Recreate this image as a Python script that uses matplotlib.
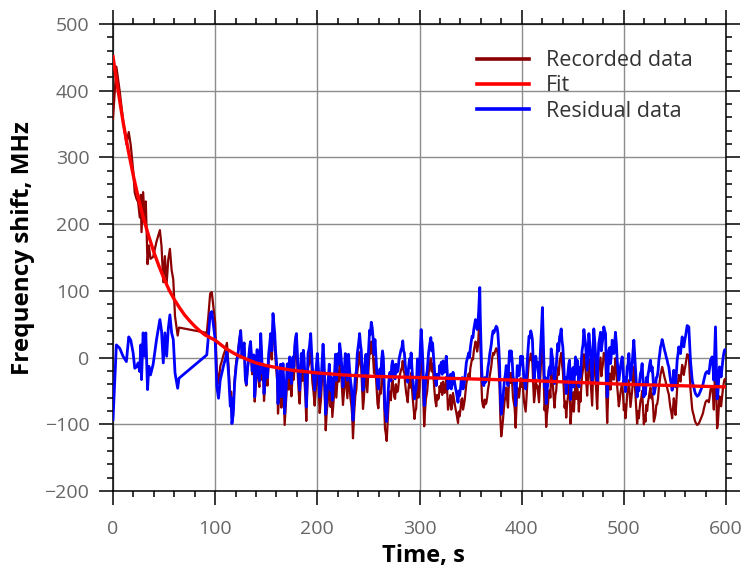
import numpy as np
import matplotlib
matplotlib.use('Agg')
import matplotlib.pyplot as plt
from matplotlib.ticker import MultipleLocator

plt.rcParams['font.family'] = ['Open Sans', 'DejaVu Sans']

#---------------------------------------------------------------------
# measured frequency shift (MHz) vs time (s), gap between ~65 and ~92 s
#---------------------------------------------------------------------
time_s = [
    0, 3.3, 6.6, 9.8, 13.1, 15.4, 17.4, 19.7, 21.3, 23.0,
    24.6, 26.2, 27.2, 27.9, 29.5, 31.1, 32.1, 33.8, 35.1, 36.7,
    39.3, 42.6, 45.9, 47.5, 49.2, 50.8, 52.5, 54.1, 55.7, 57.4,
    59.0, 60.7, 63.3, 64.6,
    91.8, 93.4, 95.1, 96.7, 98.4, 100.0, 101.6, 103.3, 105.0, 106.6, 108.2, 109.8, 111.5, 113.1,
    114.8, 116.4, 119.0, 122.4, 125.0, 127.3, 129.5, 131.5, 133.8, 135.4,
    137.0, 138.7, 140.3, 141.9, 144.6, 146.2, 147.8, 150.0, 152.4, 154.3,
    156.6, 158.3, 159.9, 161.5, 163.1, 164.8, 166.4, 168.0, 169.7, 171.3,
    172.9, 174.6, 176.2, 177.8, 179.5, 181.1, 182.7, 184.3, 186.3, 187.6,
    189.2, 190.9, 193.5, 195.1, 197.4, 200.0, 202.3, 204.6, 206.5, 208.2,
    210.4, 213.0, 214.7, 217.0, 218.6, 220.2, 221.9, 223.5, 225.1, 227.4,
    229.4, 231.6, 233.3, 234.9, 237.2, 239.1, 241.4, 243.0, 244.7, 246.3,
    248.9, 251.2, 252.8, 254.5,
    256.4, 258.0, 259.7, 261.3, 263.0, 264.6, 266.2, 267.9, 269.5, 271.1,
    272.8, 274.4, 276.1, 277.7, 280.0, 282.0, 283.6, 285.2, 286.9, 288.5,
    290.2, 291.8, 293.4, 295.1, 296.7, 298.0, 300.0, 301.6, 303.3, 304.6,
    306.2, 308.9, 311.1, 312.8, 314.8, 316.4, 318.0, 319.7, 321.3, 323.0,
    324.6, 326.2, 327.9, 329.5, 331.1, 332.8, 334.4, 336.1, 337.7, 339.3,
    341.0, 342.6, 344.3, 345.9, 348.2, 349.8, 351.5, 353.1, 354.8, 356.4,
    358.0, 359.0, 360.0, 361.3, 363.0, 364.6, 366.2, 367.9, 369.5, 371.1,
    372.8, 375.1, 376.7, 378.4, 380.0, 381.6, 383.3, 384.9, 386.6, 388.2,
    389.8, 391.5, 393.1, 394.1, 395.7, 397.4, 399.0, 400.7, 402.3, 403.9,
    405.6, 407.2, 408.9, 410.5, 412.1, 413.8, 415.4, 417.0, 418.7, 420.3,
    422.4, 424.0, 425.6, 427.3, 428.9, 430.5, 432.2, 433.8, 435.4, 437.1,
    438.7, 440.3, 442.0, 443.6, 445.2, 446.9, 447.8, 449.4, 451.1, 452.7,
    454.3, 456.0, 457.6, 459.2, 460.9, 462.5, 464.1, 465.8, 467.4, 469.0,
    470.6, 472.3, 473.9, 475.5, 477.2, 478.8, 480.4, 482.1, 483.7, 485.3,
    487.0, 488.6, 490.2, 491.8, 493.5, 495.1, 496.7, 498.4, 500.0, 501.6,
    503.3, 504.9, 506.5, 508.2, 509.8, 511.4, 513.0, 514.7, 516.3, 517.9,
    519.6, 521.2, 522.8, 524.5, 526.1, 527.7, 529.4, 531.0, 532.6, 534.3,
    535.9, 537.5, 539.1, 540.8, 542.4, 544.0, 545.7, 547.3, 548.9, 550.6,
    552.2, 553.8, 555.5, 557.1, 558.7, 560.3, 562.0, 563.6, 565.2, 566.9,
    568.5, 570.1, 571.8, 573.4, 575.0, 576.6, 578.3, 579.9, 581.5, 583.2,
    584.8, 586.4, 588.1, 589.7, 591.3, 592.6, 593.6, 595.2, 596.9, 598.5, 599.5,
]

recorded = [
    358, 436, 399, 356, 320, 338, 318, 281, 247, 238,
    233, 210, 244, 188, 248, 204, 234, 140, 168, 148,
    151, 174, 191, 167, 113, 152, 111, 147, 163, 131,
    117, 62, 33, 45,
    37, 63, 96, 98, 74, 53, -19, -39, -13, -5, 4, 11, 22, -13,
    -63, -91, -33, 9, 41, 16, -33, -22, 12, 1,
    -20, -66, -18, -29, 26, -34, -65, -26, -7, 23,
    52, 22, -19, -84, -50, -75, -26, -101, -57, -27,
    -17, -58, -18, -3, 16, -34, -69, -14, -10, -40,
    -95, -16, 14, -36, -72, -17, -83, -33, -28, -109,
    -64, -74, -89, -44, -60, -20, -5, -30, -71, -21,
    -61, -46, -71, -121, -57, -22, 8, -17, -77, -42,
    -52, 12, 24, 2,
    -2, -46, -76, -46, -31, -29, -106, -125, -76, -51,
    -41, -44, -62, -52, -32, -18, -5, -23, -52, -67,
    -32, -23, -62, -92, -77, -32, -47, 11, -38, -103,
    -63, -24, -1, -9, -53, -73, -63, -43, -38, -36,
    -53, -29, -78, -63, -78, -53, -68, -83, -98, -88,
    -63, -78, -63, -38, -24, -16, -1, 9, 24, 9,
    39, 72, -1, -65, -75, -70, -60, -40, -21, -1,
    4, 14, 4, -45, -118, -95, -65, -45, -75, -23,
    -23, -60, -75, -105, -45, -60, -31, -32, -66, -81,
    -36, -2, 6, -8, -67, -33, -42, -67, -18, 40,
    -79, -104, -74, -49, -22, -40, -75, -50, -15, -5,
    7, -20, -75, -90, -60, -40, -99, -77, -81, -36,
    -41, -81, -66, -26, 5, -16, -57, -2, -32, -72,
    5, -32, -77, -17, 0, -17, 7, -3, -98, -28,
    -48, -13, -33, -1, -43, -73, -53, -39, -79, -91,
    -54, -34, -74, -49, -14, -54, -99, -91, -65, -50,
    -100, -96, -80, -60, -45, -55, -96, -85, -70, -45,
    -25, -14, -25, -35, -45, -55, -76, -91, -61, -86,
    -46, -26, -36, -11, -26, -12, 5, 3, -47, -77,
    -87, -97, -101, -99, -93, -87, -77, -67, -64, -67,
    -48, -43, -78, 2, -106, -84, -58, -73, -48, -33, -34,
]

residual = [
    -93, 19, 14, 2, -6, 31, 26, 7, -16, -14,
    -8, -21, 19, -33, 37, 2, 37, -48, -13, -26,
    -10, 27, 57, 40, -8, 37, 2, 43, 64, 37,
    27, -23, -46, -31,
    4, 32, 66, 69, 47, 27, -43, -61, -33, -23, -12, -3, 9, -24,
    -73, -99, -39, 6, 40, 16, -31, -19, 16, 6,
    -14, -59, -10, -20, 36, -24, -54, -14, 6, 36,
    66, 36, -4, -69, -34, -59, -9, -84, -39, -9,
    1, -39, 1, 16, 36, -14, -49, 6, 11, -19,
    -74, 6, 36, -14, -49, 6, -59, -9, -4, -85,
    -39, -49, -64, -19, -34, 6, 21, -4, -44, 6,
    -34, -19, -44, -94, -29, 6, 36, 11, -49, -14,
    -24, 41, 53, 31,
    27, -17, -47, -17, -2, 0, -77, -96, -47, -22,
    -12, -15, -32, -22, -2, 12, 25, 7, -22, -37,
    -2, 7, -32, -62, -47, -2, -17, 42, -7, -72,
    -32, 7, 30, 22, -22, -42, -32, -12, -7, -5,
    -22, 2, -47, -32, -47, -22, -37, -52, -67, -57,
    -32, -47, -32, -7, 7, 15, 32, 42, 57, 42,
    72, 105, 32, -32, -42, -37, -27, -7, 12, 32,
    37, 47, 37, -12, -85, -62, -32, -12, -42, 10,
    10, -27, -42, -72, -12, -27, 2, 2, -32, -47,
    -2, 32, 40, 27, -32, 2, -7, -32, 17, 75,
    -44, -69, -39, -14, 13, -4, -39, -14, 21, 31,
    43, 16, -39, -54, -24, -4, -63, -40, -44, 1,
    -4, -44, -29, 11, 42, 21, -19, 36, 6, -34,
    43, 6, -39, 21, 38, 21, 46, 36, -59, 11,
    -9, 26, 6, 38, -4, -34, -14, 1, -39, -51,
    -14, 6, -34, -9, 26, -14, -59, -50, -24, -9,
    -59, -55, -39, -19, -4, -14, -55, -44, -29, -4,
    16, 27, 16, 6, -4, -14, -34, -49, -19, -44,
    -4, 16, 6, 31, 16, 31, 48, 46, -4, -34,
    -44, -54, -58, -56, -50, -44, -34, -24, -21, -24,
    -4, 1, -34, 46, -62, -40, -14, -29, -4, 11, 10,
]

# intermediate samples after 115 s (logged between the readings above)
time_mid = [
    115.6, 117.7, 120.7, 123.7, 126.2, 128.4, 130.5, 132.7, 134.6, 136.2,
    137.9, 139.5, 141.1, 143.3, 145.4, 147.0, 148.9, 151.2, 153.4, 155.5,
    157.5, 159.1, 160.7, 162.3, 164.0, 165.6, 167.2, 168.9, 170.5, 172.1,
    173.8, 175.4, 177.0, 178.7, 180.3, 181.9, 183.5, 185.3, 187.0, 188.4,
    190.1, 192.2, 194.3, 196.3, 198.7, 201.2, 203.5, 205.6, 207.4, 209.3,
    211.7, 213.9, 215.9, 217.8, 219.4, 221.1, 222.7, 224.3, 226.3, 228.4,
    230.5, 232.5, 234.1, 236.1, 238.2, 240.3, 242.2, 243.9, 245.5, 247.6,
    250.1, 252.0, 253.7, 255.5,
    257.2, 258.9, 260.5, 262.2, 263.8, 265.4, 267.0, 268.7, 270.3, 272.0,
    273.6, 275.3, 276.9, 278.9, 281.0, 282.8, 284.4, 286.0, 287.7, 289.3,
    291.0, 292.6, 294.2, 295.9, 297.4, 299.0, 300.8, 302.5, 304.0, 305.4,
    307.5, 310.0, 312.0, 313.8, 315.6, 317.2, 318.9, 320.5, 322.2, 323.8,
    325.4, 327.1, 328.7, 330.3, 332.0, 333.6, 335.2, 336.9, 338.5, 340.2,
    341.8, 343.5, 345.1, 347.0, 349.0, 350.7, 352.3, 354.0, 355.6, 357.2,
    358.5, 359.5, 360.7, 362.2, 363.8, 365.4, 367.0, 368.7, 370.3, 372.0,
    374.0, 375.9, 377.6, 379.2, 380.8, 382.5, 384.1, 385.8, 387.4, 389.0,
    390.7, 392.3, 393.6, 394.9, 396.6, 398.2, 399.9, 401.5, 403.1, 404.8,
    406.4, 408.1, 409.7, 411.3, 413.0, 414.6, 416.2, 417.9, 419.5, 421.4,
    423.2, 424.8, 426.5, 428.1, 429.7, 431.4, 433.0, 434.6, 436.3, 437.9,
    439.5, 441.2, 442.8, 444.4, 446.1, 447.4, 448.6, 450.3, 451.9, 453.5,
    455.2, 456.8, 458.4, 460.1, 461.7, 463.3, 465.0, 466.6, 468.2, 469.8,
    471.5, 473.1, 474.7, 476.4, 478.0, 479.6, 481.3, 482.9, 484.5, 486.2,
    487.8, 489.4, 491.0, 492.7, 494.3, 495.9, 497.6, 499.2, 500.8, 502.5,
    504.1, 505.7, 507.4, 509.0, 510.6, 512.2, 513.9, 515.5, 517.1, 518.8,
    520.4, 522.0, 523.7, 525.3, 526.9, 528.6, 530.2, 531.8, 533.5, 535.1,
    536.7, 538.3, 540.0, 541.6, 543.2, 544.9, 546.5, 548.1, 549.8, 551.4,
    553.0, 554.7, 556.3, 557.9, 559.5, 561.2, 562.8, 564.4, 566.1, 567.7,
    569.3, 571.0, 572.6, 574.2, 575.8, 577.5, 579.1, 580.7, 582.4, 584.0,
    585.6, 587.3, 588.9, 590.5, 592.0, 593.1, 594.4, 596.1, 597.7, 599.0,
]

recorded_mid = [
    -51, -78, -5, 27, 3, 21, -42, -5, 20, -25,
    -2, -47, 4, -44, 0, -20, -41, -42, 7, -3,
    36, -4, -35, -65, -26, -46, -57, -77, -28, -48,
    -33, -39, -33, 11, -10, -55, -40, -35, -21, -61,
    -51, -7, -12, -52, -43, -43, -64, -4, -64, -79,
    -35, -55, -65, -20, -41, -36, -16, -51, -47, -42,
    -22, -62, -87, -82, -48, -8, -8, -48, -63, -23,
    -18, 6, 16, -24,
    -24, -69, -59, -54, -19, -69, -114, -99, -59, -64,
    -34, -59, -40, -50, -25, -15, -20, -40, -60, -45,
    -45, -45, -75, -80, -55, -60, -16, -11, -71, -81,
    -51, -11, -21, -31, -66, -56, -61, -51, -56, -46,
    -41, -51, -71, -56, -71, -61, -76, -91, -81, -76,
    -61, -71, -51, -31, -31, -8, -3, 17, 22, 17,
    57, 27, -43, -73, -63, -68, -48, -28, -13, 7,
    9, 12, -18, -93, -108, -78, -58, -63, -43, -38,
    -38, -68, -88, -73, -53, -48, -44, -49, -74, -59,
    -19, -4, 1, -40, -55, -45, -55, -40, 10, -25,
    -65, -85, -55, -60, -31, -61, -56, -31, -26, -1,
    -11, -46, -66, -71, -46, -66, -82, -52, -57, -62,
    -57, -52, -42, -17, -7, -38, -28, -18, -53, -28,
    -13, -53, -43, -8, -28, -9, 1, -59, -64, -24,
    -34, -24, -19, -19, -59, -64, -44, -55, -70, -75,
    -50, -55, -60, -30, -35, -75, -80, -76, -61, -76,
    -86, -71, -66, -51, -61, -71, -91, -71, -61, -36,
    -21, -19, -31, -41, -51, -67, -82, -77, -72, -67,
    -37, -32, -22, -17, -18, -3, 4, -23, -63, -83,
    -93, -99, -100, -96, -90, -83, -72, -65, -65, -59,
    -46, -59, -39, -54, -99, -69, -64, -59, -39, -32,
]

residual_mid = [
    -60, -85, -10, 25, 2, 22, -40, -2, 24, -20,
    4, -40, 12, -35, 10, -10, -30, -30, 20, 10,
    50, 10, -20, -50, -10, -30, -40, -60, -10, -30,
    -15, -20, -14, 30, 10, -35, -20, -15, 0, -40,
    -30, 15, 10, -30, -20, -20, -40, 20, -40, -55,
    -10, -30, -40, 5, -15, -10, 10, -25, -20, -15,
    5, -35, -60, -55, -20, 20, 20, -20, -35, 5,
    10, 35, 45, 5,
    5, -40, -30, -25, 10, -40, -85, -70, -30, -35,
    -5, -30, -10, -20, 5, 15, 10, -10, -30, -15,
    -15, -15, -45, -50, -25, -30, 15, 20, -40, -50,
    -20, 20, 10, 0, -35, -25, -30, -20, -25, -15,
    -10, -20, -40, -25, -40, -30, -45, -60, -50, -45,
    -30, -40, -20, 0, 0, 25, 30, 50, 55, 50,
    90, 60, -10, -40, -30, -35, -15, 5, 20, 40,
    42, 45, 15, -60, -75, -45, -25, -30, -10, -5,
    -5, -35, -55, -40, -20, -15, -10, -15, -40, -25,
    15, 30, 35, -5, -20, -10, -20, -5, 45, 10,
    -30, -50, -20, -25, 5, -25, -20, 5, 10, 35,
    25, -10, -30, -35, -10, -30, -45, -15, -20, -25,
    -20, -15, -5, 20, 30, 0, 10, 20, -15, 10,
    25, -15, -5, 30, 10, 30, 40, -20, -25, 15,
    5, 15, 20, 20, -20, -25, -5, -15, -30, -35,
    -10, -15, -20, 10, 5, -35, -40, -35, -20, -35,
    -45, -30, -25, -10, -20, -30, -50, -30, -20, 5,
    20, 22, 10, 0, -10, -25, -40, -35, -30, -25,
    5, 10, 20, 25, 25, 40, 47, 20, -20, -40,
    -50, -56, -57, -53, -47, -40, -29, -22, -22, -15,
    -2, -15, 5, -10, -55, -25, -20, -15, 5, 12,
]

# fitted decay curve
fit_t = [0, 5, 10, 15, 20, 25, 30, 35, 40, 45, 50, 55, 60, 65, 70, 75, 80, 85, 90, 95,
         100, 110, 120, 130, 140, 150, 160, 175, 200, 225, 250, 275, 300, 350, 400,
         450, 500, 550, 600]
fit_v = [451, 400, 352, 310, 272, 238, 208, 182, 158, 137, 118, 101, 87, 75, 64, 55, 47, 40, 34, 30,
         26, 14, 5, -2, -8, -12, -15, -19, -23, -26, -28, -29, -30, -32, -34,
         -37, -40, -42, -44]

x_ticks = [0, 100, 200, 300, 400, 500, 600]
y_ticks = [-200, -100, 0, 100, 200, 300, 400, 500]

# merge both sets of samples in time order
t_all = np.concatenate([time_s, time_mid])
rec_all = np.concatenate([recorded, recorded_mid])
res_all = np.concatenate([residual, residual_mid])
idx = np.argsort(t_all, kind='stable')
t_all, rec_all, res_all = t_all[idx], rec_all[idx], res_all[idx]

fig = plt.figure(figsize=(7.46, 5.67), dpi=100)
ax = fig.add_axes([113/746, 76/567, 613/746, 467/567])

ax.plot(t_all, rec_all, color='#8b0000', lw=1.6, label='Recorded data', zorder=3)
ax.plot(t_all, res_all, color='#0000ff', lw=2.0, label='Residual data', zorder=4)
ax.plot(fit_t, fit_v, color='#ff0000', lw=2.4, label='Fit', zorder=5)

ax.set_xlim(0, 600)
ax.set_ylim(-200, 500)
ax.set_xticks(x_ticks)
ax.set_yticks(y_ticks)
ax.xaxis.set_minor_locator(MultipleLocator(20))
ax.yaxis.set_minor_locator(MultipleLocator(20))

ax.tick_params(which='both', direction='out', top=True, right=True, width=1.1, color='black')
ax.tick_params(which='major', length=10, labelsize=14, labelcolor='#666666')
ax.tick_params(which='minor', length=4)
ax.tick_params(axis='y', which='major', pad=7)
ax.tick_params(axis='x', which='major', pad=11)
for s in ax.spines.values():
    s.set_linewidth(1.1)
    s.set_color('black')

ax.grid(True, which='major', color='#8c8c8c', lw=1.0, zorder=0)
ax.set_axisbelow(True)

ax.set_xlabel('Time, s', fontsize=17, fontweight='bold', color='black')
ax.set_ylabel('Frequency shift, MHz', fontsize=17.5, fontweight='bold', color='black')
ax.xaxis.set_label_coords(0.507, -0.113)
ax.yaxis.set_label_coords(-0.127, 0.52)

# legend in the order recorded / fit / residual
h, l = ax.get_legend_handles_labels()
order = [0, 2, 1]
leg = ax.legend([h[i] for i in order], [l[i] for i in order],
                loc='upper left', bbox_to_anchor=((477-113)/613, 0.944),
                frameon=False, fontsize=15.5, handlelength=2.4, handletextpad=0.8,
                labelspacing=0.2, borderpad=0, borderaxespad=0)
for t in leg.get_texts():
    t.set_color('#333333')
for ln in leg.get_lines():
    ln.set_linewidth(2.6)

fig.savefig('out.png', dpi=100)
